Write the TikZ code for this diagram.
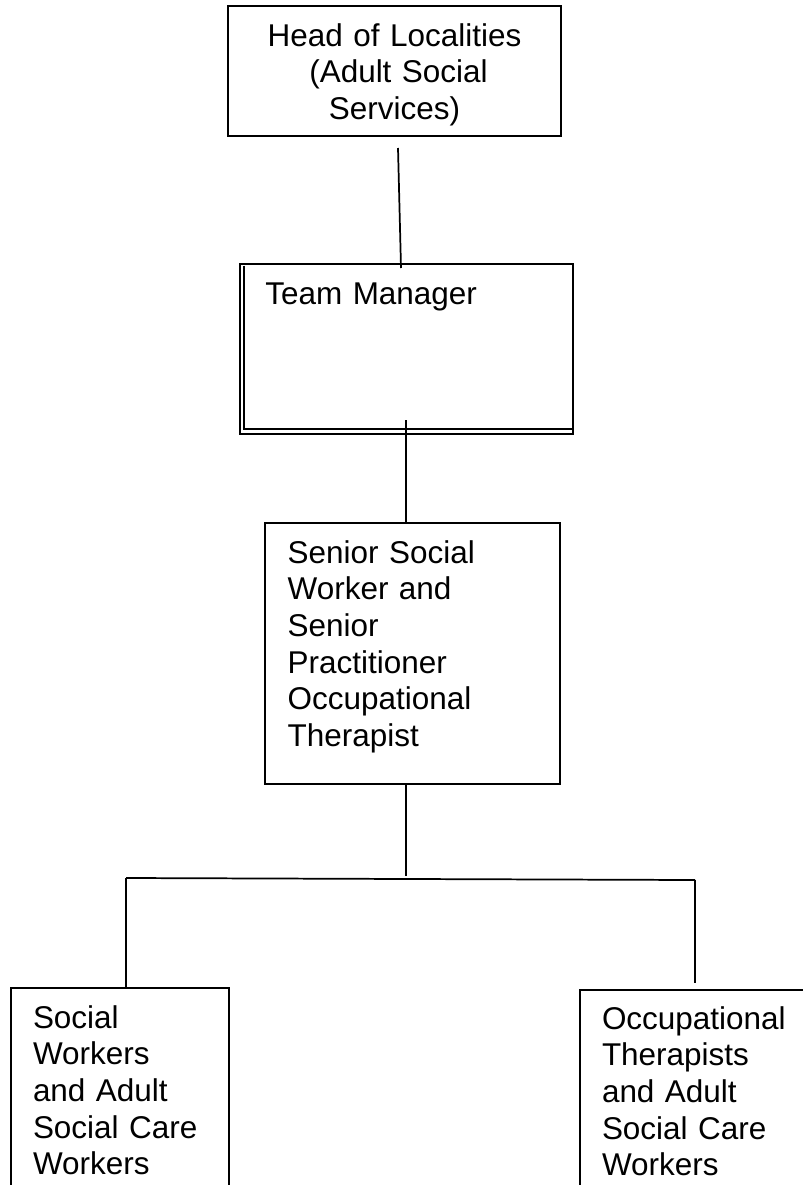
\documentclass[tikz,border=0pt]{standalone}
\usepackage{fontspec}
\setmainfont{Liberation Sans}
\usetikzlibrary{positioning,calc}

\newcommand{\orgfont}{\fontsize{23.6}{27.5}\selectfont}

\begin{document}
\begin{tikzpicture}[x=0.75pt,y=-0.75pt,
    every node/.style={draw,rectangle,line width=1.5pt,inner ysep=0pt,font=\orgfont},
    orgbox/.style={anchor=north west,align=left},
    headbox/.style={anchor=north west,align=center,inner xsep=0pt},
    link/.style={line width=1.3pt}
    ]
    \useasboundingbox (0,0) rectangle (803,1185);
    \clip (0,0) rectangle (803,1185);

    \node (head) [headbox,text width=249.75pt,text height=30pt,text depth=67.5pt] at (227,5)
        {Head of Localities\\ \hspace{6pt}(Adult Social\\ Services)};
    \node (tm) [orgbox,inner xsep=19pt,text width=211.75pt,text height=30pt,text depth=97.5pt] at (239,263)
        {Team Manager};
    \node (sen) [orgbox,inner xsep=17pt,text width=187.25pt,text height=30pt,text depth=165.75pt] at (264,522)
        {Senior Social\\ Worker and\\ Senior\\ Practitioner\\ Occupational\\ Therapist};
    \node (sw) [orgbox,inner xsep=16.5pt,text width=130.5pt,text height=30pt,text depth=129.75pt] at (10,987)
        {Social\\ Workers\\ and Adult\\ Social Care\\ Workers};
    \node (ot) [orgbox,draw=none,inner xsep=15.75pt,text width=300pt,text height=28.5pt,text depth=129.75pt] at (580,990)
        {Occupational\\ Therapists\\ and Adult\\ Social Care\\ Workers};
    % this one runs off the page on the right
    \draw[line width=1.5pt] (ot.north east) -- (ot.north west) -- (ot.south west);

    % inner lines of the double border
    \draw[line width=1.1pt] ([xshift=3.75pt,yshift=-2pt]tm.north west) |- ([xshift=-1.5pt,yshift=4.5pt]tm.south east);

    % the edges
    \coordinate (h1) at (398,148);
    \coordinate (h2) at (401,268);
    \coordinate (t1) at (406,420);
    \coordinate (s1) at (406,876);
    \coordinate (b1) at (126,878);
    \coordinate (b2) at (695,880);
    \coordinate (o1) at (695,983);
    \draw[link] (h1) -- (h2);
    \draw[link] (t1) -- (t1 |- sen.north);
    \draw[link] (s1 |- sen.south) -- (s1);
    \draw[link] (b1) -- (b2);
    \draw[link] (b1) -- (b1 |- sw.north);
    \draw[link] (b2) -- (o1);
\end{tikzpicture}
\end{document}
